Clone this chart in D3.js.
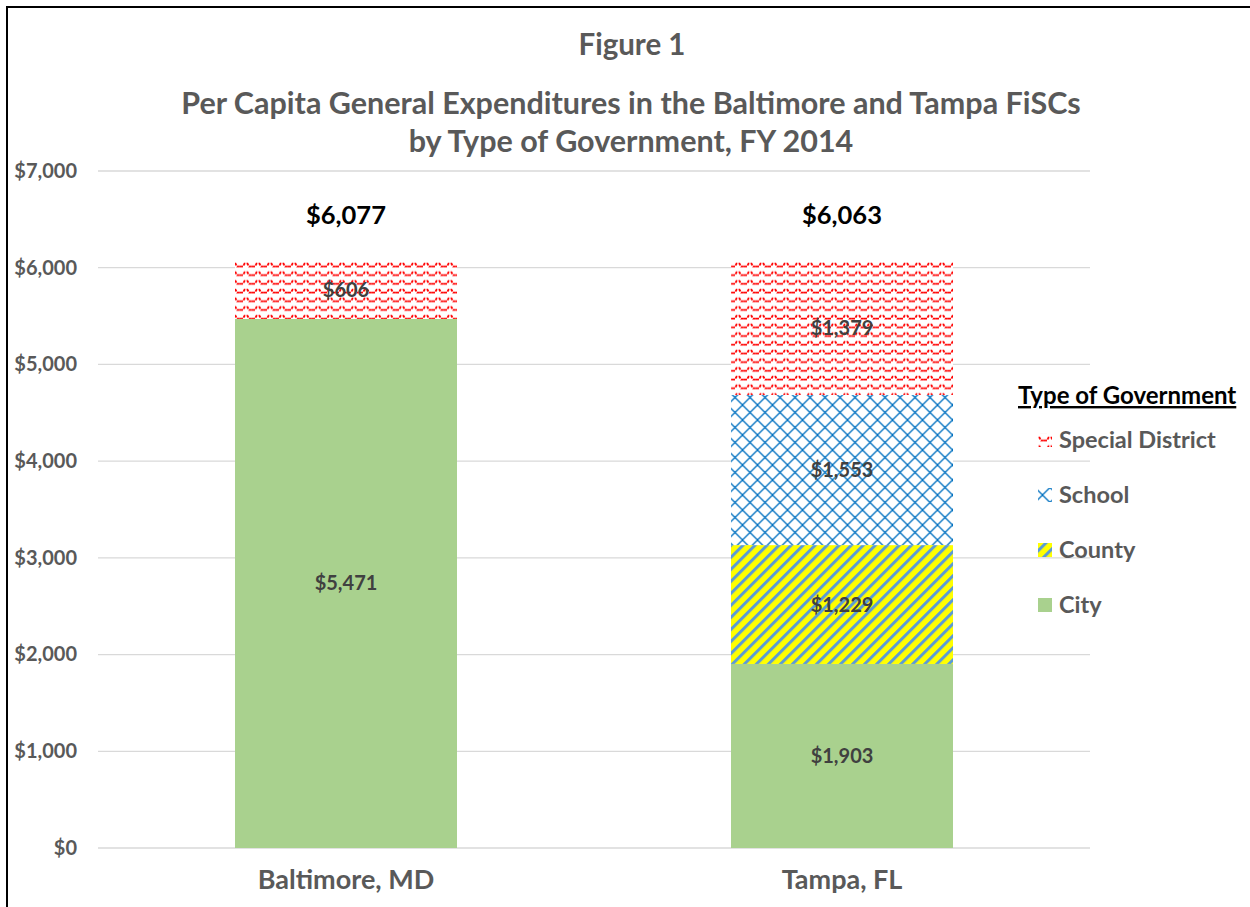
<!DOCTYPE html>
<html>
<head>
<meta charset="utf-8">
<script src="https://cdn.jsdelivr.net/npm/d3@7"></script>
<style>
  html, body { margin: 0; padding: 0; background: #fff; }
  svg { display: block; font-family: Lato, "Open Sans", sans-serif; }
</style>
</head>
<body>
<svg id="chart" width="1250" height="907"></svg>
<script>
const categories = ["Baltimore, MD", "Tampa, FL"];
const seriesNames = ["City", "County", "School", "Special District"];
const city = [5471, 1903];
const county = [0, 1229];
const school = [0, 1553];
const specialDistrict = [606, 1379];
const totals = [6077, 6063];
const yTicks = [0, 1000, 2000, 3000, 4000, 5000, 6000, 7000];

const svg = d3.select("#chart");
const defs = svg.append("defs");

// Patterns
const pWave = defs.append("pattern").attr("id", "pat-special")
  .attr("patternUnits", "userSpaceOnUse").attr("width", 12).attr("height", 8.7);
pWave.append("rect").attr("width", 12).attr("height", 8.7).attr("fill", "#fff");
pWave.append("path").attr("d", "M0,5.5 L3,5.5 L4.5,2.5 L7.5,2.5 L9,5.5 L12,5.5")
  .attr("fill", "none").attr("stroke", "#FF0000").attr("stroke-width", 1.8)
  .attr("stroke-dasharray", "3,1.2");

const pDiamond = defs.append("pattern").attr("id", "pat-school")
  .attr("patternUnits", "userSpaceOnUse").attr("width", 15).attr("height", 15)
  .attr("patternTransform", "translate(7.5,0)");
pDiamond.append("rect").attr("width", 15).attr("height", 15).attr("fill", "#fff");
pDiamond.append("path").attr("d", "M0,0 L15,15 M15,0 L0,15")
  .attr("stroke", "#0070C0").attr("stroke-width", 1.3).attr("fill", "none");

const pStripe = defs.append("pattern").attr("id", "pat-county")
  .attr("patternUnits", "userSpaceOnUse").attr("width", 8.5).attr("height", 8.5)
  .attr("patternTransform", "rotate(45)");
pStripe.append("rect").attr("width", 8.5).attr("height", 8.5).attr("fill", "#FFFF00");
pStripe.append("rect").attr("width", 3).attr("height", 8.5).attr("fill", "#5B9BD5");

const fills = {
  "City": "#A9D18E",
  "County": "url(#pat-county)",
  "School": "url(#pat-school)",
  "Special District": "url(#pat-special)"
};

// Frame
svg.append("rect").attr("x", 7).attr("y", 7).attr("width", 1260).attr("height", 920)
  .attr("fill", "none").attr("stroke", "#000").attr("stroke-width", 2);

// Scales
const x = d3.scaleBand().domain(categories).range([98, 1090])
  .paddingInner(0.5524).paddingOuter(0.2762);
const y = d3.scaleLinear().domain([0, 7000]).range([848, 171]);

// Gridlines
svg.append("g").selectAll("line").data(yTicks).join("line")
  .attr("x1", 98).attr("x2", 1090)
  .attr("y1", d => y(d)).attr("y2", d => y(d))
  .attr("stroke", "#D9D9D9").attr("stroke-width", 1.3);

// Y axis labels
const yAxis = d3.axisLeft(y).tickValues(yTicks).tickSize(0).tickPadding(0)
  .tickFormat(d => "$" + d3.format(",")(d));
const gy = svg.append("g").attr("transform", "translate(77,0)").call(yAxis);
gy.select(".domain").remove();
gy.selectAll("text").attr("fill", "#595959").attr("font-size", 20).attr("font-weight", 700)
  .attr("font-family", "Lato, 'Open Sans', sans-serif");

// Stack
const rows = categories.map((c, i) => ({
  cat: c, "City": city[i], "County": county[i], "School": school[i], "Special District": specialDistrict[i]
}));
const stacked = d3.stack().keys(seriesNames)(rows);

stacked.forEach(layer => {
  const g = svg.append("g");
  layer.forEach(seg => {
    const v = seg[1] - seg[0];
    if (v <= 0) return;
    g.append("rect")
      .attr("x", x(seg.data.cat)).attr("width", x.bandwidth())
      .attr("y", y(seg[1])).attr("height", y(seg[0]) - y(seg[1]))
      .attr("fill", fills[layer.key]);
  });
});

// Segment labels
stacked.forEach(layer => {
  layer.forEach(seg => {
    const v = seg[1] - seg[0];
    if (v <= 0) return;
    svg.append("text")
      .attr("x", x(seg.data.cat) + x.bandwidth() / 2)
      .attr("y", y((seg[0] + seg[1]) / 2))
      .attr("dy", "0.35em").attr("text-anchor", "middle")
      .attr("fill", "#404040").attr("font-size", 20).attr("font-weight", 700)
      .text("$" + d3.format(",")(v));
  });
});

// Totals
svg.append("g").selectAll("text").data(categories).join("text")
  .attr("x", d => x(d) + x.bandwidth() / 2).attr("y", 224)
  .attr("text-anchor", "middle").attr("fill", "#000")
  .attr("font-size", 25.5).attr("font-weight", 700)
  .text((d, i) => "$" + d3.format(",")(totals[i]));

// Category labels
const xAxis = d3.axisBottom(x).tickSize(0).tickPadding(0);
const gx = svg.append("g").attr("transform", "translate(0,870)").call(xAxis);
gx.select(".domain").remove();
gx.selectAll("text").attr("fill", "#595959").attr("font-size", 27).attr("font-weight", 700)
  .attr("font-family", "Lato, 'Open Sans', sans-serif");

// Titles
const titleG = svg.append("g").attr("fill", "#595959").attr("font-weight", 700).attr("text-anchor", "middle");
titleG.append("text").attr("x", 632).attr("y", 55).attr("font-size", 29.5).text("Figure 1");
titleG.append("text").attr("x", 631).attr("y", 114).attr("font-size", 30.5)
  .text("Per Capita General Expenditures in the Baltimore and Tampa FiSCs");
titleG.append("text").attr("x", 631).attr("y", 152).attr("font-size", 30.5)
  .text("by Type of Government, FY 2014");

// Legend
const legend = svg.append("g");
legend.append("text").attr("x", 1018).attr("y", 404).attr("font-size", 24).attr("font-weight", 700)
  .attr("fill", "#000").attr("text-decoration", "underline").text("Type of Government");
const legendItems = seriesNames.slice().reverse();
const ly = d3.scalePoint().domain(legendItems).range([440, 605]);
legendItems.forEach(k => {
  legend.append("rect").attr("x", 1038).attr("y", ly(k) - 7).attr("width", 14).attr("height", 14)
    .attr("fill", fills[k]);
  legend.append("text").attr("x", 1059).attr("y", ly(k)).attr("dy", "0.35em")
    .attr("font-size", 23.5).attr("font-weight", 700).attr("fill", "#595959").text(k);
});
</script>
</body>
</html>
